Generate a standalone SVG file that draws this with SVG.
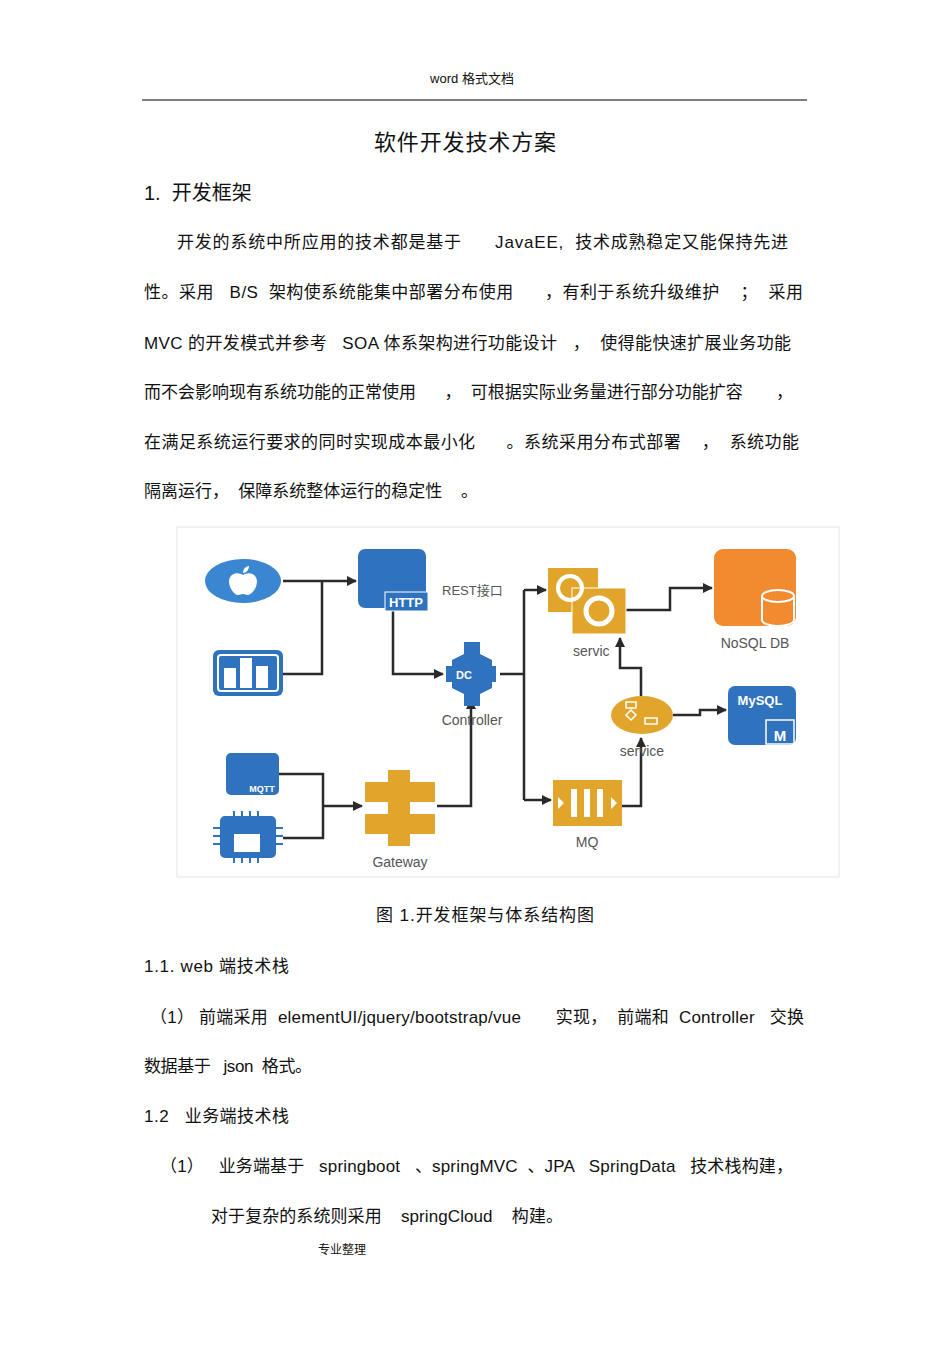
<svg xmlns="http://www.w3.org/2000/svg" width="950" height="1346" viewBox="0 0 950 1346">
<defs>
<style>
.t{font-family:"Liberation Sans","Noto Sans CJK SC",sans-serif;fill:#111;font-size:17px;white-space:pre}
.s{font-family:"Liberation Sans","Noto Sans CJK SC",sans-serif;fill:#555;font-size:14px}
.c{fill:none;stroke:#2a2a2a;stroke-width:2.5}
.b{fill:#2f72bd}
.y{fill:#e1a52b}
</style>
<marker id="a" viewBox="0 0 10 10" refX="9" refY="5" markerWidth="4" markerHeight="4" orient="auto"><path d="M0,0L10,5L0,10z" fill="#2a2a2a"/></marker>
</defs>
<rect width="950" height="1346" fill="#fff"/>
<text class="t" x="472" y="83" text-anchor="middle" style="font-size:13px">word 格式文档</text>
<line x1="142" y1="100" x2="807" y2="100" stroke="#000" stroke-width="1"/>
<text class="t" x="374" y="150" textLength="182" lengthAdjust="spacing" style="font-size:22px">软件开发技术方案</text>
<text class="t" x="144" y="200" style="font-size:20px">1.  开发框架</text>
<text class="t" x="177" y="248" textLength="611" lengthAdjust="spacing">开发的系统中所应用的技术都是基于      JavaEE,  技术成熟稳定又能保持先进</text>
<text class="t" x="144" y="298" textLength="659" lengthAdjust="spacing">性。采用   B/S  架构使系统能集中部署分布使用      ，有利于系统升级维护    ；  采用</text>
<text class="t" x="144" y="349" textLength="647" lengthAdjust="spacing">MVC 的开发模式并参考   SOA 体系架构进行功能设计   ，  使得能快速扩展业务功能</text>
<text class="t" x="144" y="398" textLength="649" lengthAdjust="spacing">而不会影响现有系统功能的正常使用      ，  可根据实际业务量进行部分功能扩容       ，</text>
<text class="t" x="144" y="448" textLength="655" lengthAdjust="spacing">在满足系统运行要求的同时实现成本最小化      。系统采用分布式部署    ，  系统功能</text>
<text class="t" x="144" y="497" textLength="334" lengthAdjust="spacing">隔离运行，  保障系统整体运行的稳定性    。</text>
<rect x="177" y="527" width="662" height="350" fill="#fff" stroke="#e4e4e4"/>
<g id="connectors">
<path class="c" d="M283,581H356" marker-end="url(#a)"/>
<path class="c" d="M283,674H322V581" stroke="#5a2a2a"/>
<path class="c" d="M393,611V674H443" marker-end="url(#a)"/>
<path class="c" d="M279,774H323V838H283M323,806H362" marker-end="url(#a)"/>
<path class="c" d="M437,806H471V700" marker-end="url(#a)"/>
<path class="c" d="M500,674H524M524,590V800"/>
<path class="c" d="M524,590H546" marker-end="url(#a)"/>
<path class="c" d="M524,800H551" marker-end="url(#a)"/>
<path class="c" d="M626,610H670V588H712" marker-end="url(#a)"/>
<path class="c" d="M622,806H641V738" marker-end="url(#a)"/>
<path class="c" d="M641,696V668H620V638" marker-end="url(#a)"/>
<path class="c" d="M673,715H700V710H726" marker-end="url(#a)"/>
</g>
<g id="apple"><ellipse cx="243" cy="581" rx="38" ry="22" fill="#3a86d0"/><path d="M243,575c-4,-3 -13,-3 -14,6c0,8 6,14 9,14c2,0 3,-1 5,-1c2,0 3,1 5,1c3,0 9,-6 9,-14c-1,-9 -10,-9 -14,-6zM243,573c0,-4 3,-7 6,-7c0,4 -3,7 -6,7z" fill="#fff"/></g>
<g id="chart"><rect x="213" y="650" width="70" height="46" rx="6" class="b"/><rect x="218" y="655" width="60" height="36" rx="3" fill="none" stroke="#fff" stroke-width="2"/><rect x="224" y="668" width="12" height="20" fill="#fff"/><rect x="240" y="658" width="12" height="30" fill="#fff"/><rect x="256" y="666" width="12" height="22" fill="#fff"/></g>
<g id="http"><rect x="358" y="549" width="68" height="59" rx="7" class="b"/><rect x="385" y="592" width="43" height="19" fill="#2f72bd" stroke="#fff" stroke-width="1"/><text x="406" y="607" text-anchor="middle" font-family="Liberation Sans,sans-serif" font-weight="bold" font-size="13" fill="#fff">HTTP</text><text class="s" x="442" y="595" style="font-size:13px">REST接口</text></g>
<g id="controller"><path d="M464,642h16v12l12,6v28l-12,6v12h-16v-12l-12-6v-28l12-6z" class="b"/><rect x="446" y="666" width="50" height="16" class="b"/><text x="464" y="679" text-anchor="middle" font-family="Liberation Sans,sans-serif" font-weight="bold" font-size="11" fill="#fff">DC</text><text class="s" x="472" y="725" text-anchor="middle">Controller</text></g>
<g id="mqtt"><rect x="226" y="753" width="53" height="42" rx="5" class="b"/><text x="262" y="792" text-anchor="middle" font-family="Liberation Sans,sans-serif" font-weight="bold" font-size="9" fill="#fff">MQTT</text></g>
<g id="factory"><rect x="220" y="816" width="56" height="42" rx="5" class="b"/><g stroke="#2f72bd" stroke-width="2"><path d="M213,828h7M213,836h7M213,844h7M276,828h7M276,836h7M276,844h7M234,811v5M242,811v5M250,811v5M258,811v5M234,858v5M242,858v5M250,858v5M258,858v5"/></g><rect x="234" y="834" width="26" height="18" fill="#fff"/></g>
<g id="gateway"><path d="M388,770h22v12h25v20h-25v12h25v20h-25v12h-22v-12h-23v-20h23v-12h-23v-20h23z" class="y"/><text class="s" x="400" y="867" text-anchor="middle">Gateway</text></g>
<g id="service1"><rect x="548" y="568" width="50" height="44" fill="#e1a52b"/><rect x="572" y="588" width="54" height="46" fill="#e1a52b" stroke="#fff" stroke-width="1"/><circle cx="570" cy="588" r="12" fill="none" stroke="#fff" stroke-width="4"/><circle cx="599" cy="611" r="13" fill="none" stroke="#fff" stroke-width="5"/><text class="s" x="573" y="656">servic</text></g>
<g id="nosql"><rect x="714" y="549" width="82" height="77" rx="9" fill="#f28a30"/><path d="M762,596v24a16,6 0 0 0 32,0v-24" fill="#f28a30" stroke="#fff" stroke-width="2"/><ellipse cx="778" cy="596" rx="16" ry="6" fill="#f28a30" stroke="#fff" stroke-width="2"/><text class="s" x="755" y="648" text-anchor="middle">NoSQL DB</text></g>
<g id="service2"><ellipse cx="642" cy="715" rx="31" ry="19" fill="#e1a52b"/><g fill="none" stroke="#fff" stroke-width="1.5"><rect x="626" y="702" width="10" height="6"/><path d="M631,710l5,5l-5,5l-5-5z"/><rect x="645" y="718" width="12" height="6"/></g><text class="s" x="642" y="756" text-anchor="middle">service</text></g>
<g id="mysql"><rect x="728" y="686" width="68" height="59" rx="7" class="b"/><text x="760" y="705" text-anchor="middle" font-family="Liberation Sans,sans-serif" font-weight="bold" font-size="13" fill="#fff">MySQL</text><rect x="766" y="720" width="28" height="24" fill="#2f72bd" stroke="#fff" stroke-width="1.5"/><text x="780" y="741" text-anchor="middle" font-family="Liberation Sans,sans-serif" font-weight="bold" font-size="15" fill="#fff">M</text></g>
<g id="mq"><rect x="553" y="780" width="69" height="46" fill="#e1a52b"/><rect x="571" y="789" width="6" height="28" fill="#fff"/><rect x="584" y="789" width="6" height="28" fill="#fff"/><rect x="597" y="789" width="6" height="28" fill="#fff"/><path d="M558,797l6,6l-6,6zM611,797l6,6l-6,6z" fill="#fff"/><text class="s" x="587" y="847" text-anchor="middle">MQ</text></g>
<text class="t" x="376" y="921" textLength="218" lengthAdjust="spacing">图 1.开发框架与体系结构图</text>
<text class="t" x="144" y="972" textLength="145" lengthAdjust="spacing">1.1. web 端技术栈</text>
<text class="t" x="150" y="1023" textLength="654" lengthAdjust="spacing">（1） 前端采用  elementUI/jquery/bootstrap/vue       实现，  前端和  Controller   交换</text>
<text class="t" x="144" y="1072" textLength="168" lengthAdjust="spacing">数据基于   json  格式。</text>
<text class="t" x="144" y="1122" textLength="145" lengthAdjust="spacing">1.2   业务端技术栈</text>
<text class="t" x="160" y="1172" textLength="633" lengthAdjust="spacing">（1）   业务端基于   springboot   、springMVC  、JPA   SpringData   技术栈构建，</text>
<text class="t" x="211" y="1222" textLength="352" lengthAdjust="spacing">对于复杂的系统则采用    springCloud    构建。</text>
<text class="t" x="342" y="1254" text-anchor="middle" style="font-size:12px">专业整理</text>
</svg>
